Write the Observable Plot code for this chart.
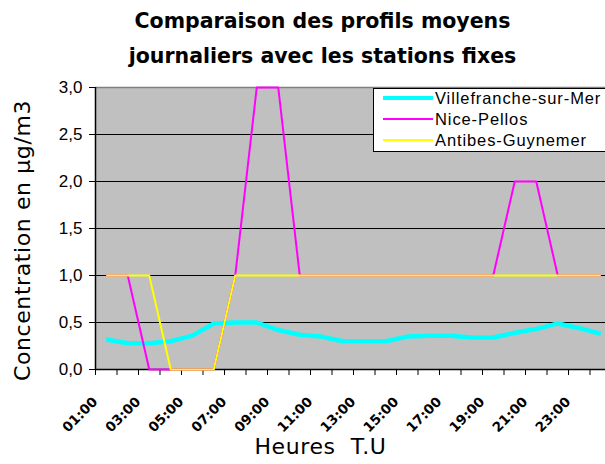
<!DOCTYPE html>
<html><head><meta charset="utf-8">
<script src="https://cdn.jsdelivr.net/npm/d3@7"></script>
<script src="https://cdn.jsdelivr.net/npm/@observablehq/plot@0.6"></script>
<style>
html,body{margin:0;padding:0}
body{width:605px;height:464px;overflow:hidden;background:#fff;position:relative;font-family:"Liberation Sans",Arial,sans-serif}
#title{height:78px;box-sizing:border-box;padding-top:4px;padding-left:40px;text-align:center;font:bold 20.5px "Comic Sans MS","DejaVu Sans",sans-serif;line-height:35px;color:#000}
#legend{position:absolute;left:373px;top:88px;width:260px;height:64px;background:#fff;border:1px solid #000;box-sizing:border-box}
#legend .row{position:absolute;left:0;height:20px;width:260px}
#legend svg{position:absolute;left:8px;top:0}
#legend span{position:absolute;left:61px;top:0px;font-size:16.5px;line-height:19px;letter-spacing:0.9px;color:#000;white-space:nowrap}
</style></head>
<body>
<div id="title">Comparaison des profils moyens<br>journaliers avec les stations fixes</div>
<div id="chart"></div>
<div id="legend"></div>
<script>
const hourLabels = ["01:00","02:00","03:00","04:00","05:00","06:00","07:00","08:00","09:00","10:00","11:00","12:00",
                    "13:00","14:00","15:00","16:00","17:00","18:00","19:00","20:00","21:00","22:00","23:00","24:00"];
const villefranche = [0.32,0.28,0.28,0.30,0.36,0.49,0.50,0.50,0.42,0.37,0.35,0.30,
                      0.30,0.30,0.35,0.36,0.36,0.34,0.34,0.39,0.43,0.49,0.44,0.38];
const nicePellos = [1,1,0,0,0,0,1,3,3,1,1,1,1,1,1,1,1,1,1,2,2,1,1,1];
const antibes = [1,1,1,0,0,0,1,1,1,1,1,1,1,1,1,1,1,1,1,1,1,1,1,1];
const seriesNames = ["Villefranche-sur-Mer","Nice-Pellos","Antibes-Guynemer"];
const seriesColors = ["#00ffff","#ff00ff","#ffff00"];
const seriesWidths = [4.5,2,2];
const yTicks = [0,0.5,1,1.5,2,2.5,3];
const yLabel = "Concentration en µg/m3";
const xLabel = "Heures  T.U";

const allValues = [villefranche, nicePellos, antibes];
const table = [];
allValues.forEach((vals, s) => vals.forEach((v, i) => table.push({pos: i + 0.5, hour: hourLabels[i], value: v, series: seriesNames[s]})));
const shownLabels = hourLabels.map((h, i) => ({pos: i + 0.5, hour: h})).filter((d, i) => i % 2 === 0);
const boundaries = d3.range(hourLabels.length + 1);

const lineMarks = seriesNames.map((name, s) =>
  Plot.line(table.filter(d => d.series === name), {
    x: "pos", y: "value", stroke: seriesColors[s], strokeWidth: seriesWidths[s],
    strokeLinejoin: "round", strokeLinecap: "butt"
  }));

const chart = Plot.plot({
  width: 605, height: 386,
  marginLeft: 95, marginRight: 0, marginTop: 9, marginBottom: 95,
  x: {type: "linear", domain: [0, hourLabels.length], range: [95, 611]},
  y: {domain: [0, 3], range: [291, 9]},
  style: {background: "transparent", color: "#000", fontFamily: "'Liberation Sans', Arial, sans-serif"},
  marks: [
    Plot.frame({fill: "#c0c0c0", stroke: null}),
    Plot.ruleY(yTicks.filter(t => t > 0 && t < 3), {stroke: "#000", strokeWidth: 1}),
    Plot.ruleY([3], {stroke: "#808080", strokeWidth: 1.5}),
    Plot.axisY({ticks: yTicks, tickFormat: d => d.toFixed(1).replace(".", ","), tickSize: 6, tickPadding: 7, fontSize: 17, label: null}),
    Plot.axisX({ticks: boundaries, tickFormat: () => "", tickSize: 6, label: null}),
    Plot.ruleX([0], {stroke: "#000", strokeWidth: 1.5}),
    Plot.ruleY([0], {stroke: "#000", strokeWidth: 1.5}),
    ...lineMarks,
    Plot.text(shownLabels, {x: "pos", y: () => 0, text: "hour", rotate: -45, textAnchor: "end",
      dx: -11, dy: 30, fontWeight: "bold", fontSize: 13.5, fontFamily: "'DejaVu Sans', sans-serif"}),
    Plot.text([yLabel], {frameAnchor: "left", text: d => d, rotate: -90, textAnchor: "middle",
      dx: -73, dy: 12, fontSize: 22, fontFamily: "'Comic Sans MS','DejaVu Sans',sans-serif"}),
    Plot.text([xLabel], {frameAnchor: "bottom", text: d => d, textAnchor: "middle",
      dx: -30, dy: 84, fontSize: 22, fontFamily: "'Comic Sans MS','DejaVu Sans',sans-serif"})
  ]
});
d3.select(chart).selectAll("text").filter(function() { return this.textContent === yLabel || this.textContent === xLabel; })
  .style("letter-spacing", "0.6px");
document.getElementById("chart").appendChild(chart);

const legend = document.getElementById("legend");
const rowTops = [0, 21, 42];
seriesNames.forEach((name, s) => {
  const row = document.createElement("div");
  row.className = "row";
  row.style.top = rowTops[s] + "px";
  row.innerHTML = `<svg width="52" height="20"><line x1="1" x2="51" y1="9" y2="9" stroke="${seriesColors[s]}" stroke-width="${seriesWidths[s] === 4.5 ? 4 : 2}"/></svg><span>${name}</span>`;
  legend.appendChild(row);
});
</script>
</body></html>
